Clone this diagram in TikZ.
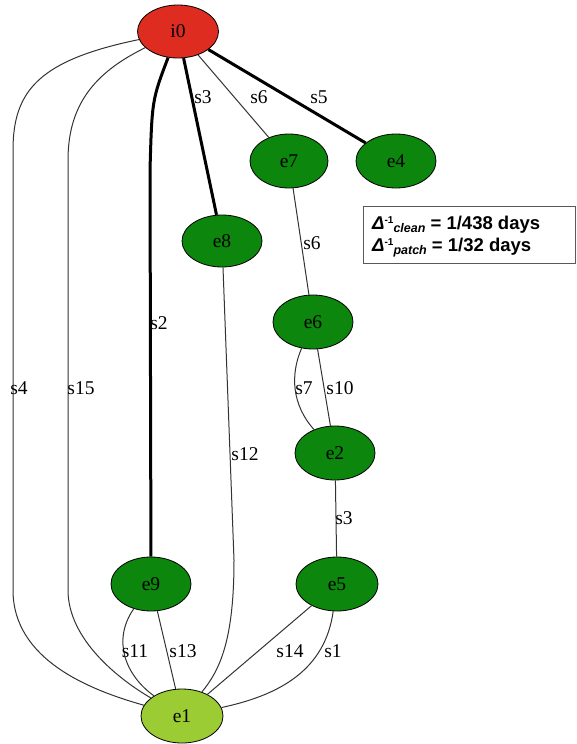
\documentclass[tikz,border=0pt]{standalone}
\usepackage{fontspec}
\setmainfont{Liberation Serif}
\newfontfamily\legendfont{Liberation Sans}
\usetikzlibrary{shapes.geometric}
\definecolor{nodered}{RGB}{222,44,32}
\definecolor{nodegreen}{RGB}{12,134,12}
\definecolor{nodelight}{RGB}{155,204,52}
\tikzset{
  vert/.style={ellipse, draw=black, line width=0.8pt, minimum width=80pt, minimum height=54pt, inner sep=0pt, font=\fontsize{19.5}{21}\selectfont},
  thin edge/.style={draw=black!80, line width=1pt},
  thick edge/.style={draw=black, line width=3pt},
  elabel/.style={font=\fontsize{19.5}{21}\selectfont, inner sep=0pt},
  legtext/.style={anchor=base west, inner sep=0pt, font=\legendfont\bfseries\fontsize{18.5}{20}\selectfont}
}
\newcommand{\legline}[2]{\textit{Δ}\raisebox{0.6ex}{\fontsize{10}{10}\selectfont -1}\raisebox{-0.4ex}{\fontsize{12.5}{12.5}\selectfont\itshape #1} = #2}
\begin{document}
\begin{tikzpicture}[x=1pt,y=-1pt]
\useasboundingbox (0,0) rectangle (576,744);
% nodes
\node[vert, fill=nodered, minimum width=81pt, minimum height=53pt] (i0) at (178,31.5) {i0};
\node[vert, fill=nodegreen, minimum width=78pt] (e7) at (289,161) {e7};
\node[vert, fill=nodegreen] (e4) at (396,161) {e4};
\node[vert, fill=nodegreen, minimum height=52pt] (e8) at (222,241) {e8};
\node[vert, fill=nodegreen] (e6) at (313,322) {e6};
\node[vert, fill=nodegreen] (e2) at (335,453) {e2};
\node[vert, fill=nodegreen] (e9) at (151,584) {e9};
\node[vert, fill=nodegreen, minimum width=82pt] (e5) at (337,584) {e5};
\node[vert, fill=nodelight, minimum width=82pt] (e1) at (182,716) {e1};
% edges
\path[thin edge] (i0) .. controls (40,60) and (13,90) .. (13,150) -- (13,590) .. controls (13,660) and (90,690) .. (e1);
\path[thin edge] (i0) .. controls (100,70) and (68,100) .. (68,160) -- (68,590) .. controls (68,640) and (120,680) .. (e1);
\path[thick edge] (i0) .. controls (152,100) .. (150,170) -- (e9);
\path[thick edge] (i0) -- (e8);
\path[thin edge] (i0) -- (e7);
\path[thick edge] (i0) -- (e4);
\path[thin edge] (e7) -- (e6);
\path[thin edge] (e6) .. controls (290,375) and (292,405) .. (e2);
\path[thin edge] (e6) -- (e2);
\path[thin edge] (e2) -- (e5);
\path[thin edge] (e8) -- (234,560) .. controls (234,640) and (220,670) .. (e1);
\path[thin edge] (e9) .. controls (112,640) and (125,675) .. (e1);
\path[thin edge] (e9) -- (e1);
\path[thin edge] (e5) -- (e1);
\path[thin edge] (e5) .. controls (325,670) and (280,695) .. (e1);
% labels
\node[elabel] (l5) at (319,97) {s5};
\node[elabel] (l6a) at (259,97) {s6};
\node[elabel] (l3a) at (203,97) {s3};
\node[elabel] (l2) at (159,323) {s2};
\node[elabel] (l4) at (19,388) {s4};
\node[elabel] (l15) at (81,388) {s15};
\node[elabel] (l6b) at (312,243) {s6};
\node[elabel] (l12) at (245,454) {s12};
\node[elabel] (l7) at (304,388) {s7};
\node[elabel] (l10) at (340,388) {s10};
\node[elabel] (l3b) at (344,518) {s3};
\node[elabel] (l11) at (135,651) {s11};
\node[elabel] (l13) at (183,651) {s13};
\node[elabel] (l14) at (290,651) {s14};
\node[elabel] (l1) at (333,651) {s1};
% legend
\node[draw=black!65, line width=1pt, anchor=north west, minimum width=212pt, minimum height=57pt, inner sep=0pt] (legend) at (363,206) {};
\node[legtext] (leg1) at (372,229) {\legline{clean}{1/438 days}};
\node[legtext] (leg2) at (372,251) {\legline{patch}{1/32 days}};
\end{tikzpicture}
\end{document}
